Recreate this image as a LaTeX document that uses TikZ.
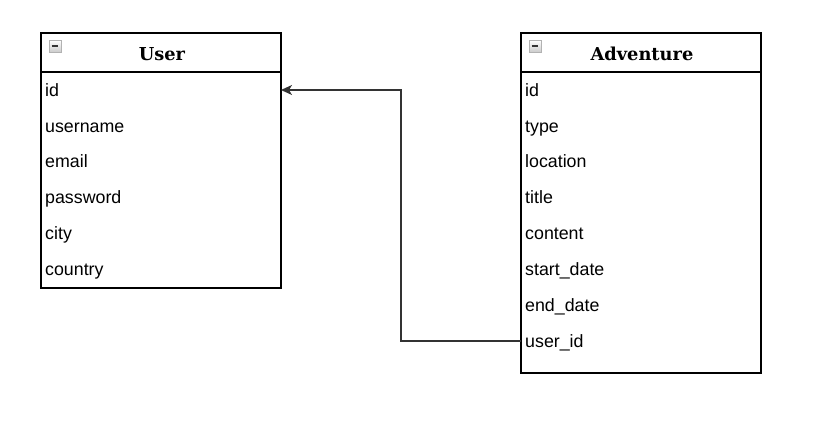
\documentclass[tikz,border=0pt]{standalone}
\usepackage{fontspec}
\setmainfont{Liberation Sans}
\newfontfamily\titlefont{DejaVu Serif}
\usetikzlibrary{arrows.meta}
\definecolor{conn}{HTML}{333333}
\tikzset{
  tbl/.style={draw=black, line width=1.5pt},
  fieldtxt/.style={anchor=base west, inner sep=0pt, font=\fontsize{17.8}{17.8}\selectfont},
  titletxt/.style={anchor=base, inner sep=0pt, font=\titlefont\bfseries\fontsize{17.8}{17.8}\selectfont},
  iconbox/.style={draw=gray!60, line width=0.8pt, top color=white, bottom color=gray!40, minimum size=12pt, inner sep=0pt},
  conn/.style={draw=conn, line width=1.5pt, -{Stealth[length=11pt, width=10pt, inset=3pt]}}
}
\begin{document}
\begin{tikzpicture}[x=1pt, y=-1pt]
\useasboundingbox (0,0) rectangle (820,435);
% User table
\draw[tbl] (41,33) rectangle (281,288);
\draw[tbl] (41,72) -- (281,72);
\node[iconbox] (uicon) at (55,46) {};
\draw[line width=2pt, gray!40!black] ([xshift=3pt]uicon.west) -- ([xshift=-3pt]uicon.east);
\node[titletxt] (utitle) at (162,60.5) {User};
\node[fieldtxt] (u1) at (45,96.5) {id};
\node[fieldtxt] (u2) at (45,132.5) {username};
\node[fieldtxt] (u3) at (45,167.5) {email};
\node[fieldtxt] (u4) at (45,203.5) {password};
\node[fieldtxt] (u5) at (45,239.5) {city};
\node[fieldtxt] (u6) at (45,275.5) {country};
\coordinate (uid) at (281,90);
% Adventure table
\draw[tbl] (521,33) rectangle (761,373);
\draw[tbl] (521,72) -- (761,72);
\node[iconbox] (aicon) at (535,46) {};
\draw[line width=2pt, gray!40!black] ([xshift=3pt]aicon.west) -- ([xshift=-3pt]aicon.east);
\node[titletxt] (atitle) at (642,60.5) {Adventure};
\node[fieldtxt] (a1) at (525,96.5) {id};
\node[fieldtxt] (a2) at (525,132.5) {type};
\node[fieldtxt] (a3) at (525,167.5) {location};
\node[fieldtxt] (a4) at (525,203.5) {title};
\node[fieldtxt] (a5) at (525,239.5) {content};
\node[fieldtxt] (a6) at (525,275.5) {start\_date};
\node[fieldtxt] (a7) at (525,311.5) {end\_date};
\node[fieldtxt] (a8) at (525,347.5) {user\_id};
\coordinate (auid) at (521,341);
% connector
\draw[conn] (auid) -- (401,341) -- (401,90) -- (uid);
\end{tikzpicture}
\end{document}
